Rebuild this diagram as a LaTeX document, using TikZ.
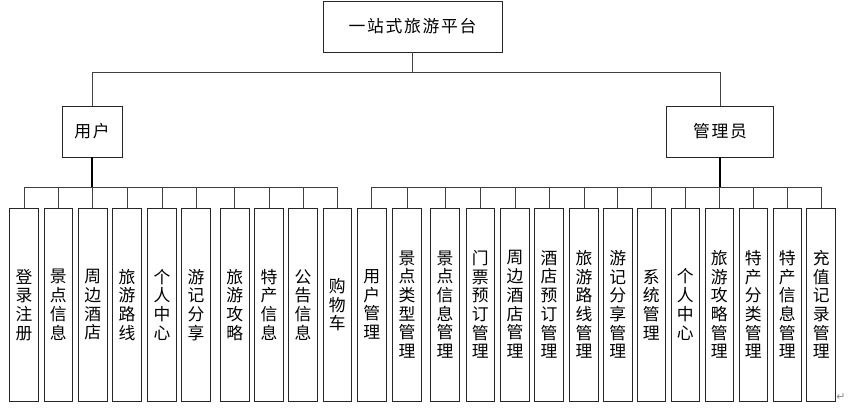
\documentclass[tikz,border=0pt]{standalone}
\usepackage{fontspec}
\setmainfont{Noto Sans CJK SC}
\newfontfamily\symfont{DejaVu Sans}
\begin{document}
\begin{tikzpicture}[x=1pt,y=-1pt,
  box/.style={draw=black!85,line width=0.9pt,inner sep=0pt},
  headtext/.style={font=\fontsize{16.8}{18}\selectfont\addfontfeatures{LetterSpace=10}},
  leaf/.style={box,minimum width=28.6pt,minimum height=193pt,anchor=north,align=center,
    font=\fontsize{16.8}{18.7}\selectfont},
  conn/.style={draw=black!75,line width=0.9pt},
  stem/.style={draw=black,line width=1.6pt}]
\useasboundingbox (0,0) rectangle (849,417);
\node[box,headtext,minimum width=179pt,minimum height=51pt] (top) at (412.5,26.5) {一站式旅游平台};
\node[box,headtext,minimum width=60pt,minimum height=51pt] (user) at (92,131.5) {用户};
\node[box,headtext,minimum width=106.6pt,minimum height=51pt] (admin) at (720,131.5) {管理员};
\coordinate (topbus) at (412.5,72);
\draw[conn] (top.south) -- (topbus);
\draw[conn] (user.north) |- (topbus);
\draw[conn] (admin.north) |- (topbus);
% user leaves
\foreach \cx/\t [count=\i] in {24/{登\\录\\注\\册},58.3/{景\\点\\信\\息},92.7/{周\\边\\酒\\店},127/{旅\\游\\路\\线},
  162/{个\\人\\中\\心},196/{游\\记\\分\\享},234.7/{旅\\游\\攻\\略},269/{特\\产\\信\\息},
  303/{公\\告\\信\\息},337.3/{购\\物\\车}}
  \node[leaf] (u\i) at (\cx,207.8) {\t};
% admin leaves
\foreach \cx/\t [count=\i] in {371.7/{用\\户\\管\\理},407/{景\\点\\类\\型\\管\\理},445/{景\\点\\信\\息\\管\\理},
  480.3/{门\\票\\预\\订\\管\\理},515/{周\\边\\酒\\店\\管\\理},549/{酒\\店\\预\\订\\管\\理},
  584/{旅\\游\\路\\线\\管\\理},617.7/{游\\记\\分\\享\\管\\理},651.3/{系\\统\\管\\理},
  685.3/{个\\人\\中\\心},719.3/{旅\\游\\攻\\略\\管\\理},753.3/{特\\产\\分\\类\\管\\理},
  787.3/{特\\产\\信\\息\\管\\理},821.2/{充\\值\\记\\录\\管\\理}}
  \node[leaf] (a\i) at (\cx,207.5) {\t};
\coordinate (ubus) at (92,187);
\coordinate (abus) at (720,187);
\foreach \i in {1,...,10} \draw[conn] (u\i.north) |- (ubus);
\foreach \i in {1,...,14} \draw[conn] (a\i.north) |- (abus);
\draw[stem] (user.south) -- (ubus);
\draw[stem] (admin.south) -- (abus);
\node[text=black!45,font=\symfont\fontsize{11}{11}\selectfont,inner sep=0pt] (pm) at (841,397) {↵};
\end{tikzpicture}
\end{document}
